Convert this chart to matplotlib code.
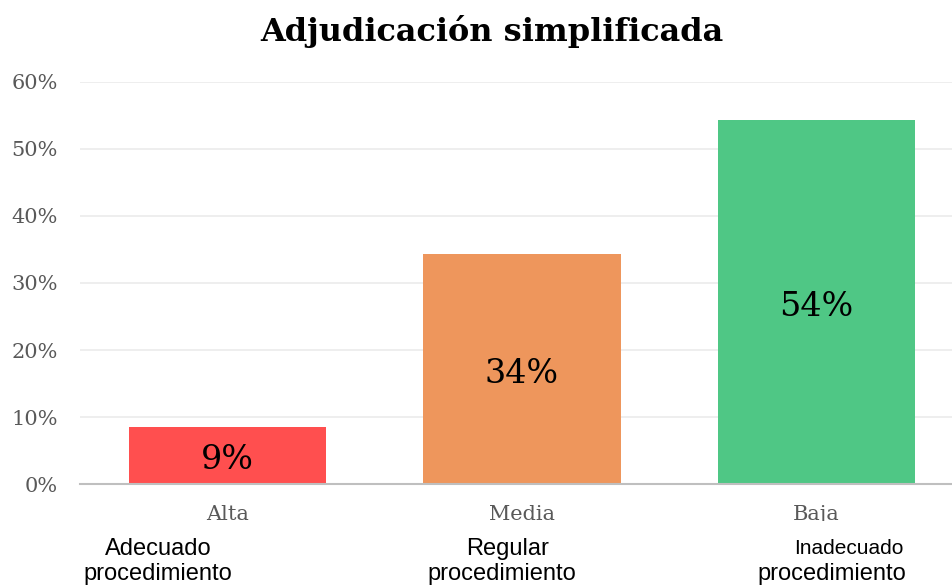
import matplotlib
matplotlib.use("Agg")
import matplotlib.pyplot as plt
from matplotlib.patches import Rectangle
from matplotlib.transforms import offset_copy

categories = ["Alta", "Media", "Baja"]
values = [0.086, 0.343, 0.543]
value_labels = ["9%", "34%", "54%"]
colors = ["#FF4F4F", "#EE965C", "#4FC785"]
yticks = [0, 0.1, 0.2, 0.3, 0.4, 0.5, 0.6]
ytick_labels = ["0%", "10%", "20%", "30%", "40%", "50%", "60%"]
title = "Adjudicación simplificada"
overlay_top = ["Adecuado", "Regular", "Inadecuado"]
overlay_bottom = ["procedimiento", "procedimiento", "procedimiento"]

W, H = 952, 587
fig = plt.figure(figsize=(W / 100, H / 100), dpi=100)
ax = fig.add_axes([80 / W, 1 - 484.3 / H, (W - 80) / W, (484.3 - 81.7) / H])

serif = ["DejaVu Serif"]
x = list(range(len(categories)))
ax.bar(x, values, width=0.67, color=colors, zorder=2)
ax.set_xlim(-0.5, 2.5 - 12 / 294.5)
ax.set_ylim(0, 0.6)
ax.set_yticks(yticks)
ax.set_yticklabels(ytick_labels, family=serif, fontsize=15, color="#595959")
ax.set_xticks(x)
ax.set_xticklabels(categories, family=serif, fontsize=15, color="#595959")
ax.tick_params(axis="both", length=0)
ax.tick_params(axis="y", pad=16)
ax.tick_params(axis="x", pad=15)
for s in ["top", "right", "left"]:
    ax.spines[s].set_visible(False)
ax.spines["bottom"].set_color("#BFBFBF")
ax.spines["bottom"].set_linewidth(1.5)
ax.yaxis.grid(True, color="#EBEBEB", linewidth=1.2, zorder=0)
ax.set_axisbelow(True)

lab_tr = offset_copy(ax.transData, fig=fig, x=0, y=-5, units="dots")
for xi, v, lab in zip(x, values, value_labels):
    ax.text(xi, v / 2, lab, ha="center", va="center", fontsize=24,
            family=serif, color="black", zorder=3, transform=lab_tr)

fig.text(492 / W, 1 - 31 / H, title, ha="center", va="center",
         fontsize=23, fontweight="bold", family=serif)

# white box that covers the lower part of the category labels
fig.patches.append(Rectangle((0, 0), 1, 1 - 521 / H, transform=fig.transFigure,
                             facecolor="white", edgecolor="none", zorder=5))

sans = ["Liberation Sans", "DejaVu Sans"]
tops_x = [158, 508, 849]
tops_fs = [17, 17, 15]
bots_x = [158, 502, 832]
for tx, tf, t, bx, b in zip(tops_x, tops_fs, overlay_top, bots_x, overlay_bottom):
    fig.text(tx / W, 1 - 549 / H, t, ha="center", va="center", fontsize=tf,
             family=sans, zorder=6)
    fig.text(bx / W, 1 - 574 / H, b, ha="center", va="center", fontsize=17,
             family=sans, zorder=6)

fig.savefig("out.png", dpi=100, facecolor="white")
